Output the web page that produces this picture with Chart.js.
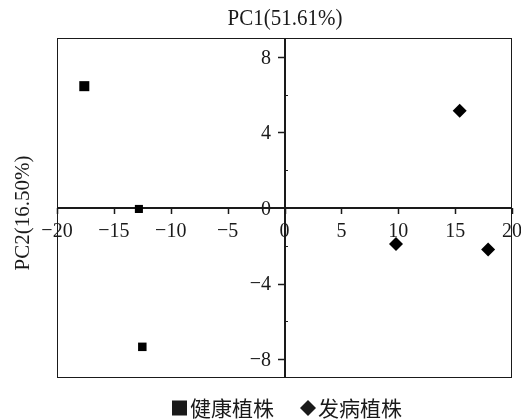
<!DOCTYPE html>
<html>
<head>
<meta charset="utf-8">
<script src="https://cdn.jsdelivr.net/npm/chart.js@4"></script>
<style>
  html, body { margin: 0; padding: 0; background: #fff; }
  canvas { display: block; }
</style>
</head>
<body>
<canvas id="pca" width="521" height="420"></canvas>
<script>
// PCA scores of the two plant groups
const healthyPC1 = [-17.6, -12.8, -12.5];
const healthyPC2 = [6.45, -0.05, -7.35];
const diseasedPC1 = [15.4, 9.8, 17.9];
const diseasedPC2 = [5.15, -1.9, -2.2];

const seriesNames = ['健康植株', '发病植株'];
const xTicks = [-20, -15, -10, -5, 0, 5, 10, 15, 20];
const yTicks = [8, 4, 0, -4, -8];
const yMinorTicks = [6, 2, -2, -6];
const xTitle = 'PC1(51.61%)';
const yTitle = 'PC2(16.50%)';

const toPoints = (xs, ys) => xs.map((x, i) => ({ x, y: ys[i] }));
const fmt = v => (v < 0 ? '\u2212' + Math.abs(v) : String(v));

const INK = '#1a1a1a';
const SERIF = '"Liberation Serif", "Times New Roman", serif';
const CJK = '"Noto Sans CJK SC", sans-serif';

// text drawn slightly taller than wide, like the printed figure's type
function tallText(ctx, str, x, y, sy) {
  ctx.save();
  ctx.translate(x, y);
  ctx.scale(1, sy);
  ctx.fillText(str, 0, 0);
  ctx.restore();
}

// Cross-shaped axes through the origin, framed plot box, titles and legend
const pcaFrame = {
  id: 'pcaFrame',
  beforeDatasetsDraw(chart) {
    const { ctx, chartArea: a, scales: { x, y } } = chart;
    const x0 = Math.round(x.getPixelForValue(0));
    const y0 = Math.round(y.getPixelForValue(0));
    ctx.save();
    ctx.strokeStyle = INK;

    // frame
    ctx.lineWidth = 1;
    ctx.strokeRect(a.left + 0.5, a.top + 0.5, a.right - a.left - 1, a.bottom - a.top - 1);

    // axis lines
    ctx.lineWidth = 2;
    ctx.beginPath();
    ctx.moveTo(a.left, y0);
    ctx.lineTo(a.right, y0);
    ctx.moveTo(x0, a.top);
    ctx.lineTo(x0, a.bottom);
    ctx.stroke();

    // x ticks (downward)
    ctx.lineWidth = 1.5;
    ctx.beginPath();
    xTicks.forEach(v => {
      const px = Math.round(x.getPixelForValue(v)) + 0.5;
      ctx.moveTo(px, y0);
      ctx.lineTo(px, y0 + 6);
    });
    // y major ticks (left)
    yTicks.forEach(v => {
      if (v === 0) return;
      const py = Math.round(y.getPixelForValue(v)) + 0.5;
      ctx.moveTo(x0 - 7, py);
      ctx.lineTo(x0, py);
    });
    ctx.stroke();
    // y minor ticks (right)
    ctx.lineWidth = 1;
    ctx.beginPath();
    yMinorTicks.forEach(v => {
      const py = Math.round(y.getPixelForValue(v)) + 0.5;
      ctx.moveTo(x0, py);
      ctx.lineTo(x0 + 3, py);
    });
    ctx.stroke();

    // tick labels
    ctx.fillStyle = INK;
    ctx.font = '20px ' + SERIF;
    ctx.textAlign = 'center';
    ctx.textBaseline = 'middle';
    xTicks.forEach(v => {
      tallText(ctx, fmt(v), x.getPixelForValue(v), y0 + 23, 1.1);
    });
    ctx.textAlign = 'right';
    yTicks.forEach(v => {
      tallText(ctx, fmt(v), x0 - 14, y.getPixelForValue(v) + 1, 1.1);
    });

    // axis titles
    ctx.textAlign = 'center';
    ctx.font = '21px ' + SERIF;
    tallText(ctx, xTitle, x0, 19, 1.05);
    ctx.save();
    ctx.translate(23, 213);
    ctx.rotate(-Math.PI / 2);
    ctx.fillText(yTitle, 0, 0);
    ctx.restore();
    ctx.restore();
  },
  afterDraw(chart) {
    const { ctx } = chart;
    ctx.save();
    ctx.fillStyle = INK;
    ctx.font = '21px ' + CJK;
    ctx.textAlign = 'left';
    ctx.textBaseline = 'middle';
    const ly = 408;
    // square marker
    ctx.fillRect(172, ly - 7.5, 15, 15);
    ctx.fillText(seriesNames[0], 190, ly);
    // diamond marker
    ctx.beginPath();
    ctx.moveTo(308, ly - 8);
    ctx.lineTo(316, ly);
    ctx.lineTo(308, ly + 8);
    ctx.lineTo(300, ly);
    ctx.closePath();
    ctx.fill();
    ctx.fillText(seriesNames[1], 318, ly);
    ctx.restore();
  }
};

new Chart(document.getElementById('pca'), {
  type: 'scatter',
  data: {
    datasets: [
      {
        label: seriesNames[0],
        data: toPoints(healthyPC1, healthyPC2),
        pointStyle: 'rect',
        pointRadius: [7.1, 5.7, 6.0],
        backgroundColor: '#000',
        borderColor: '#000',
        borderWidth: 0
      },
      {
        label: seriesNames[1],
        data: toPoints(diseasedPC1, diseasedPC2),
        pointStyle: 'rectRot',
        pointRadius: 7,
        backgroundColor: '#000',
        borderColor: '#000',
        borderWidth: 0
      }
    ]
  },
  options: {
    responsive: false,
    animation: false,
    layout: { padding: { left: 57, right: 9, top: 38, bottom: 42 } },
    plugins: { legend: { display: false }, title: { display: false }, tooltip: { enabled: false } },
    scales: {
      x: { type: 'linear', min: -20, max: 20, display: false },
      y: { type: 'linear', min: -9, max: 9, display: false }
    }
  },
  plugins: [pcaFrame]
});
</script>
</body>
</html>
